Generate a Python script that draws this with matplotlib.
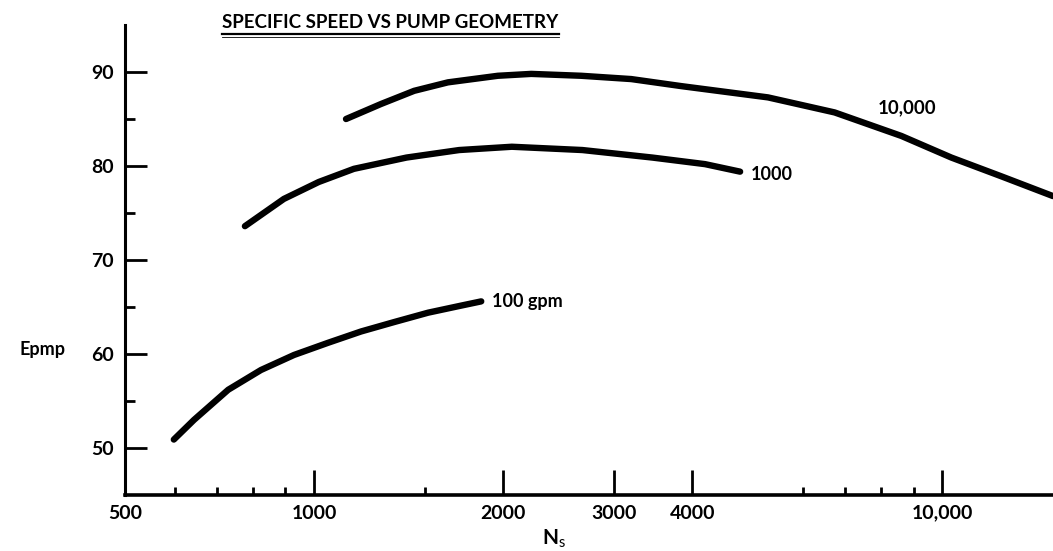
import matplotlib
matplotlib.use('Agg')
import matplotlib.pyplot as plt
from matplotlib.lines import Line2D

FONT = 'Lato'
plt.rcParams['font.family'] = [FONT, 'DejaVu Sans']
plt.rcParams['mathtext.fontset'] = 'custom'
plt.rcParams['mathtext.rm'] = FONT

# specific speed Ns vs pump efficiency, one curve per flow rate
ns_100 = [598, 644, 730, 823, 929, 1053, 1188, 1341, 1519, 1714, 1845]
ep_100 = [50.9, 53.0, 56.2, 58.3, 59.9, 61.2, 62.4, 63.4, 64.4, 65.15, 65.6]

ns_1000 = [776, 895, 1017, 1157, 1403, 1702, 2064, 2673, 3454, 4190, 4765]
ep_1000 = [73.6, 76.5, 78.3, 79.7, 80.9, 81.7, 82.05, 81.7, 80.9, 80.2, 79.4]

ns_10000 = [1124, 1278, 1443, 1633, 1961, 2216, 2662, 3197, 3841, 5278,
            6738, 8604, 10335, 12417, 15000]
ep_10000 = [85.0, 86.6, 88.0, 88.9, 89.6, 89.8, 89.6, 89.25, 88.5, 87.3,
            85.7, 83.2, 80.9, 78.9, 76.8]

x_major = [500, 1000, 2000, 3000, 4000, 10000]
x_labels = ['500', '1000', '2000', '3000', '4000', '10,000']
x_minor = [600, 700, 800, 900, 1500, 6000, 7000, 8000, 9000]
y_major = [50, 60, 70, 80, 90]
y_minor = [55, 65, 75, 85]

fig = plt.figure(figsize=(10.53, 5.51), dpi=100)
ax = fig.add_axes([0.1187, 0.1016, 0.8813, 0.853])

lw = 4.6
for xs, ys in [(ns_100, ep_100), (ns_1000, ep_1000), (ns_10000, ep_10000)]:
    ax.plot(xs, ys, color='black', lw=lw, solid_capstyle='round',
            solid_joinstyle='round')

ax.set_xscale('log')
ax.set_xlim(500, 15000)
ax.set_ylim(45, 95)

ax.spines['top'].set_visible(False)
ax.spines['right'].set_visible(False)
ax.spines['left'].set_linewidth(2.2)
ax.spines['bottom'].set_linewidth(2.6)

ax.set_xticks(x_major)
ax.set_xticklabels(x_labels)
ax.set_xticks(x_minor, minor=True)
ax.xaxis.set_minor_formatter(matplotlib.ticker.NullFormatter())
ax.set_yticks(y_major)
ax.set_yticks(y_minor, minor=True)

ax.tick_params(axis='x', which='major', direction='in', length=18, width=2, pad=7, labelsize=14)
ax.tick_params(axis='x', which='minor', direction='in', length=6, width=2)
ax.tick_params(axis='y', which='major', direction='in', length=16, width=2, pad=8, labelsize=14)
ax.tick_params(axis='y', which='minor', direction='in', length=7, width=2)
for lab in ax.get_xticklabels() + ax.get_yticklabels():
    lab.set_fontweight('bold')

# curve labels
ax.annotate('100 gpm', (ns_100[-1], ep_100[-1]), xytext=(8, 0), textcoords='offset points',
            ha='left', va='center', fontsize=13, fontweight='bold')
ax.annotate('1000', (ns_1000[-1], ep_1000[-1]), xytext=(8, -2), textcoords='offset points',
            ha='left', va='center', fontsize=13, fontweight='bold')
ax.text(7900, 86.2, '10,000', ha='left', va='center', fontsize=13.5, fontweight='bold')

ax.set_ylabel('Epmp', rotation=0, fontsize=13, fontweight='bold', ha='center', va='center')
ax.yaxis.set_label_coords(-0.089, 0.309)
ax.set_xlabel(r'N$_{\mathrm{s}}$', fontsize=15, fontweight='bold', va='center')
ax.xaxis.set_label_coords(0.462, -0.094)

title = fig.text(0.211, 0.96, 'SPECIFIC SPEED VS PUMP GEOMETRY', ha='left', va='center',
                 fontsize=13.5, fontweight='bold')

fig.canvas.draw()
bb = title.get_window_extent().transformed(fig.transFigure.inverted())
fig.add_artist(Line2D([bb.x0, bb.x1], [bb.y0 - 0.006, bb.y0 - 0.006],
                      transform=fig.transFigure, color='black', lw=1.6))
fig.add_artist(Line2D([bb.x0, bb.x1], [bb.y0 - 0.012, bb.y0 - 0.012],
                      transform=fig.transFigure, color='black', lw=0.6))

fig.savefig('out.png', dpi=100)
